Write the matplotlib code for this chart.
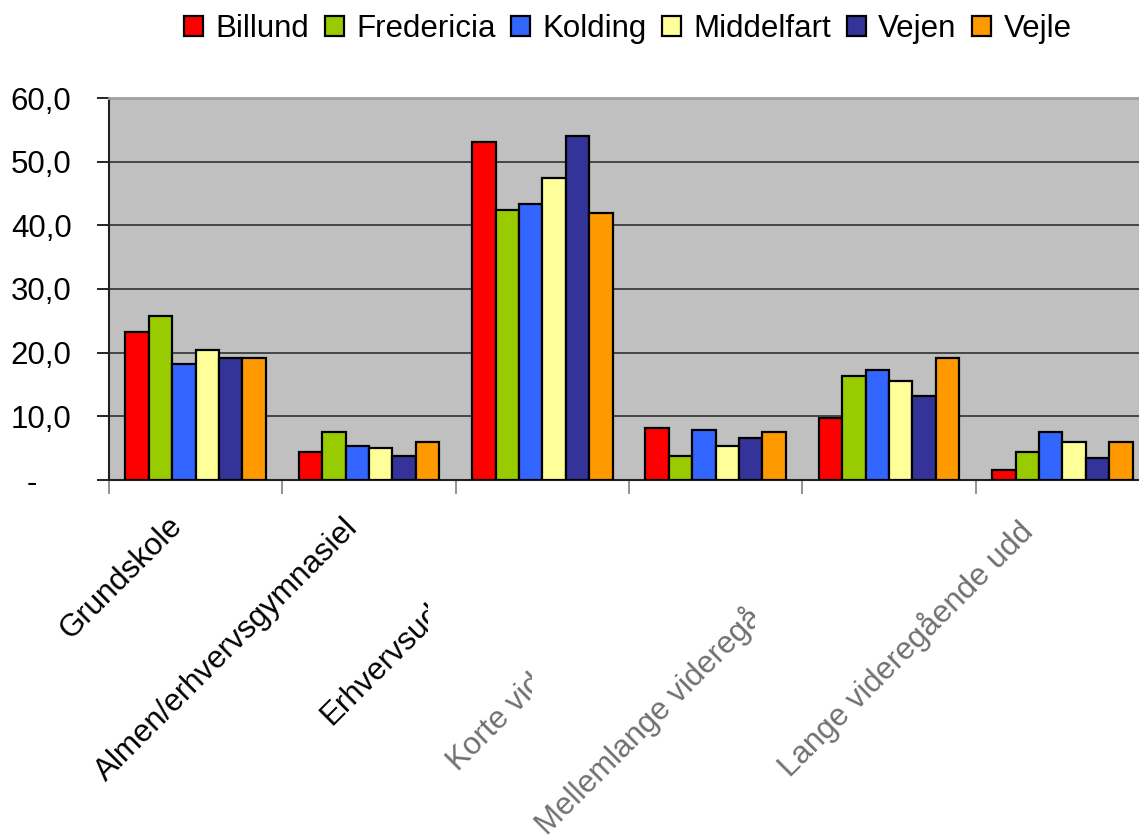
import numpy as np
import matplotlib
matplotlib.use("Agg")
import matplotlib.pyplot as plt
from matplotlib.transforms import Bbox, TransformedBbox

plt.rcParams['font.family'] = ['Liberation Sans', 'DejaVu Sans']

# ---- data ----
categories = ["Grundskole", "Almen/erhvervsgymnasiel", "Erhvervsuddannelse",
              "Korte videregående uddannelse", "Mellemlange videregående uddannelse",
              "Lange videregående udd"]
series_names = ["Billund", "Fredericia", "Kolding", "Middelfart", "Vejen", "Vejle"]
billund = [23.2, 4.4, 53.1, 8.1, 9.7, 1.6]
fredericia = [25.7, 7.5, 42.4, 3.7, 16.4, 4.4]
kolding = [18.2, 5.3, 43.3, 7.8, 17.3, 7.5]
middelfart = [20.4, 5.0, 47.4, 5.3, 15.6, 6.0]
vejen = [19.2, 3.8, 54.0, 6.6, 13.2, 3.5]
vejle = [19.2, 6.0, 42.0, 7.6, 19.2, 6.0]
y_ticks = [0, 10, 20, 30, 40, 50, 60]
y_tick_labels = ["-    ", "10,0", "20,0", "30,0", "40,0", "50,0", "60,0"]

series = [billund, fredericia, kolding, middelfart, vejen, vejle]
colors = ["#FF0000", "#99CC00", "#3366FF", "#FFFF99", "#333399", "#FF9900"]

FS = 22.5

# ---- layout (pixels) ----
W, H = 1139, 840
fig = plt.figure(figsize=(W / 100, H / 100), dpi=100)
ax = fig.add_axes([109 / W, 1 - 480 / H, 1040 / W, 382 / H])
ax.set_facecolor("#c0c0c0")

x = np.arange(len(categories))
bw = 0.135
handles = []
for i, (name, vals, col) in enumerate(zip(series_names, series, colors)):
    h = ax.bar(x + (i - 2.5) * bw, vals, bw, color=col, edgecolor="black",
               linewidth=1.6, label=name, zorder=3)
    handles.append(h)

ax.set_xlim(-0.5, 5.5)
ax.set_ylim(0, 60)
ax.set_axisbelow(True)
ax.yaxis.grid(True, color="#303030", linewidth=1.2)
ax.xaxis.grid(False)

ax.set_yticks(y_ticks)
ax.set_yticklabels(y_tick_labels, fontsize=FS)
ax.tick_params(axis="y", length=9, width=1.2, color="black", pad=18)

ax.set_xticks(np.arange(-0.5, 6, 1))
ax.set_xticklabels([])
ax.tick_params(axis="x", length=10, width=1.2, color="#808080")

for s in ["left", "bottom"]:
    ax.spines[s].set_color("#202020")
    ax.spines[s].set_linewidth(1.5)
ax.spines["top"].set_color("#a0a0a0")
ax.spines["top"].set_linewidth(2)
ax.spines["right"].set_visible(False)

# category labels: baseline start points and right clip (Excel truncation)
label_starts = [(70, 640), (106, 782), (331, 726), (458, 772), (547, 836), (790, 778)]
label_clip = [None, None, 428, 532, 755, None]
label_colors = ["black", "black", "black", "#707070", "#707070", "#707070"]
for cat, (px, py), clip, c in zip(categories, label_starts, label_clip, label_colors):
    t = fig.text(px / W, 1 - py / H, cat, rotation=45, rotation_mode="anchor",
                 ha="left", va="baseline", fontsize=FS, color=c)
    if clip is not None:
        t.set_clip_box(TransformedBbox(Bbox.from_extents(0, 0, clip / W, 1), fig.transFigure))
        t.set_clip_on(True)

fig.legend(handles=handles, labels=series_names, loc="center",
           bbox_to_anchor=(628 / W, 1 - 29 / H), ncol=6, frameon=False,
           fontsize=FS, handlelength=0.6, handleheight=0.6,
           handletextpad=0.4, columnspacing=0.5, borderpad=0)

fig.savefig("out.png", dpi=100)
